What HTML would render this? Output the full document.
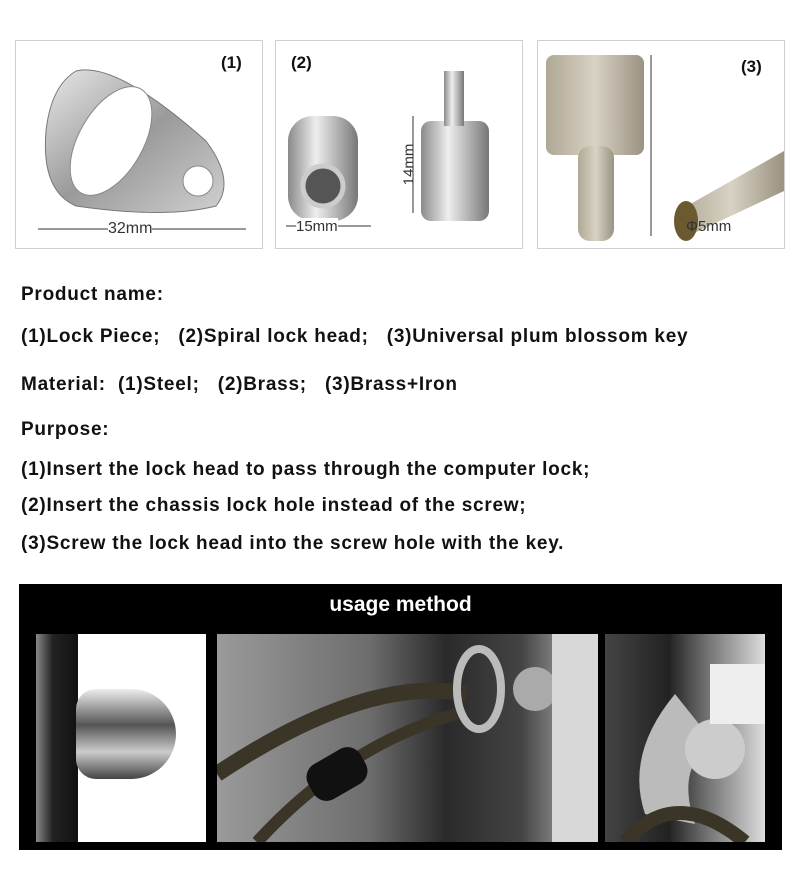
<!DOCTYPE html>
<html><head><meta charset="utf-8"><style>
body{margin:0;width:800px;height:870px;background:#fff;position:relative;overflow:hidden;font-family:"Liberation Sans",sans-serif}
.p{position:absolute;top:40px;height:207px;border:1px solid #cfcfcf;background:#fff}
.t{position:absolute;left:21px;font-weight:bold;font-size:19px;letter-spacing:0.75px;color:#111;white-space:nowrap}
.lbl{position:absolute;font-size:17px;font-weight:bold;color:#111}
.dim{position:absolute;font-size:15px;color:#333}
.ph{position:absolute;top:634px;height:208px;overflow:hidden}
</style></head><body>
<div class="p" style="left:15px;width:246px">
<svg width="246" height="207" style="position:absolute;left:0;top:0">
<defs><linearGradient id="m" x1="0" x2="1" y1="0" y2="1"><stop offset="0" stop-color="#e8e8e8"/><stop offset=".5" stop-color="#9a9a9a"/><stop offset="1" stop-color="#d0d0d0"/></linearGradient></defs>
<path d="M60 30 Q100 20 190 100 Q220 140 200 165 Q150 178 60 165 Q25 150 30 90 Q35 45 60 30Z" fill="url(#m)" stroke="#777"/>
<ellipse cx="95" cy="100" rx="32" ry="60" transform="rotate(30 95 100)" fill="#fff" stroke="#888"/>
<circle cx="182" cy="140" r="15" fill="#fff" stroke="#888"/>
<line x1="22" y1="188" x2="230" y2="188" stroke="#333"/>
</svg>
<div class="lbl" style="left:205px;top:12px">(1)</div>
<div class="dim" style="left:92px;top:179px;background:#fff;font-size:16px">32mm</div>
</div>
<div class="p" style="left:275px;width:246px">
<svg width="246" height="207" style="position:absolute;left:0;top:0">
<defs><linearGradient id="c" x1="0" x2="1"><stop offset="0" stop-color="#8a8a8a"/><stop offset=".4" stop-color="#eee"/><stop offset="1" stop-color="#777"/></linearGradient></defs>
<rect x="12" y="75" width="70" height="105" rx="25" fill="url(#c)"/>
<circle cx="47" cy="145" r="20" fill="#555" stroke="#ccc" stroke-width="5"/>
<rect x="145" y="80" width="68" height="100" rx="10" fill="url(#c)"/>
<rect x="168" y="30" width="20" height="55" fill="url(#c)"/>
<line x1="10" y1="185" x2="95" y2="185" stroke="#333"/>
<line x1="137" y1="75" x2="137" y2="172" stroke="#333"/>
</svg>
<div class="lbl" style="left:15px;top:12px">(2)</div>
<div class="dim" style="left:20px;top:177px;background:#fff">15mm</div>
<div class="dim" style="left:112px;top:115px;transform:rotate(-90deg)">14mm</div>
</div>
<div class="p" style="left:537px;width:246px">
<svg width="246" height="207" style="position:absolute;left:0;top:0">
<defs><linearGradient id="k" x1="0" x2="1"><stop offset="0" stop-color="#b0a895"/><stop offset=".5" stop-color="#d8d2c4"/><stop offset="1" stop-color="#9a9282"/></linearGradient></defs>
<rect x="8" y="14" width="98" height="100" rx="8" fill="url(#k)"/>
<rect x="40" y="105" width="36" height="95" rx="12" fill="url(#k)"/>
<path d="M140 170 L246 110 L246 150 L150 195Z" fill="url(#k)"/>
<ellipse cx="148" cy="180" rx="12" ry="20" fill="#6b5a30"/>
<line x1="113" y1="14" x2="113" y2="195" stroke="#333"/>
</svg>
<div class="lbl" style="left:203px;top:16px">(3)</div>
<div class="dim" style="left:148px;top:177px">Φ5mm</div>
</div>
<div class="t" style="top:284px">Product name:</div>
<div class="t" style="top:326px">(1)Lock Piece;&nbsp;&nbsp;&nbsp;(2)Spiral lock head;&nbsp;&nbsp;&nbsp;(3)Universal plum blossom key</div>
<div class="t" style="top:374px">Material:&nbsp; (1)Steel;&nbsp;&nbsp; (2)Brass;&nbsp;&nbsp; (3)Brass+Iron</div>
<div class="t" style="top:419px">Purpose:</div>
<div class="t" style="top:459px">(1)Insert the lock head to pass through the computer lock;</div>
<div class="t" style="top:495px">(2)Insert the chassis lock hole instead of the screw;</div>
<div class="t" style="top:533px">(3)Screw the lock head into the screw hole with the key.</div>
<div style="position:absolute;left:19px;top:584px;width:763px;height:266px;background:#000"></div>
<div style="position:absolute;left:19px;top:593px;width:763px;text-align:center;color:#fff;font-weight:bold;font-size:21px">usage method</div>
<div class="ph" style="left:36px;width:170px;background:#fff">
<div style="position:absolute;left:0;top:0;width:42px;height:208px;background:linear-gradient(90deg,#888,#222 40%,#111)"></div>
<div style="position:absolute;left:40px;top:55px;width:100px;height:90px;border-radius:20px 45px 45px 20px;background:linear-gradient(180deg,#eee,#555 40%,#ccc 70%,#444)"></div>
</div>
<div class="ph" style="left:217px;width:381px;background:linear-gradient(90deg,#9a9a9a,#6d6d6d 40%,#2a2a2a 60%,#444 80%,#ccc)">
<svg width="381" height="208" style="position:absolute;left:0;top:0">
<path d="M0 140 Q150 40 250 60" stroke="#3b3528" stroke-width="16" fill="none"/>
<path d="M40 208 Q130 110 240 80" stroke="#3b3528" stroke-width="12" fill="none"/>
<rect x="90" y="120" width="60" height="40" rx="15" fill="#111" transform="rotate(-30 120 140)"/>
<ellipse cx="262" cy="55" rx="22" ry="40" fill="none" stroke="#bbb" stroke-width="8"/>
<circle cx="318" cy="55" r="22" fill="#aaa"/>
<rect x="335" y="0" width="46" height="208" fill="#d8d8d8"/>
</svg>
</div>
<div class="ph" style="left:605px;width:160px;background:linear-gradient(90deg,#444,#222 40%,#666 60%,#ddd)">
<svg width="160" height="208" style="position:absolute;left:0;top:0">
<path d="M70 60 Q20 120 40 180 L90 190 Q70 130 110 110Z" fill="#bbb"/>
<circle cx="110" cy="115" r="30" fill="#ccc"/>
<path d="M20 208 Q70 150 140 208" stroke="#3b3528" stroke-width="14" fill="none"/>
<rect x="105" y="30" width="55" height="60" fill="#eee"/>
</svg>
</div>
</body></html>
